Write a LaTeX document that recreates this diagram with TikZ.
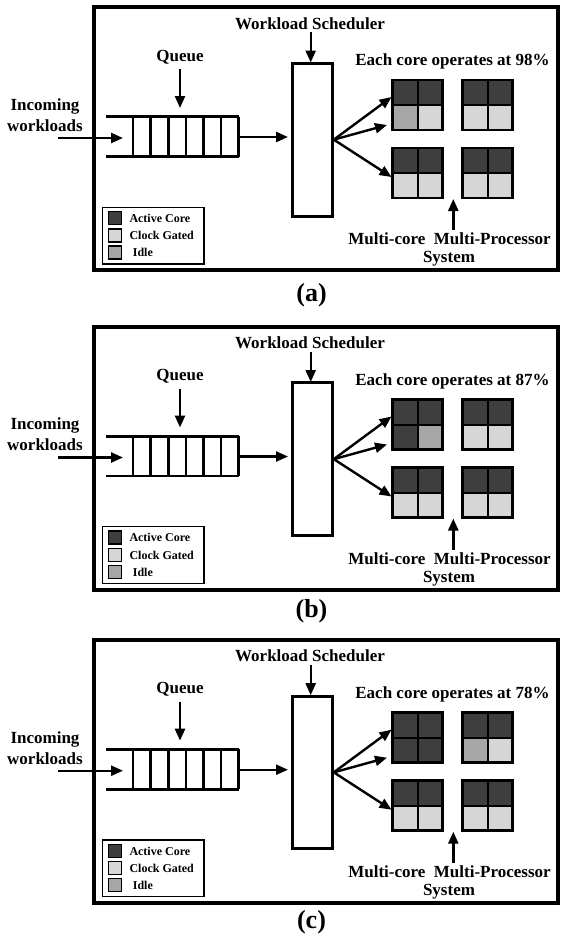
\documentclass[tikz,border=0pt]{standalone}
\usepackage{fontspec}
\setmainfont{Liberation Serif}
\usetikzlibrary{arrows.meta}
\definecolor{activec}{HTML}{3E3E3E}
\definecolor{gatedc}{HTML}{D6D6D6}
\definecolor{idlec}{HTML}{A6A6A6}
\tikzset{
  lbl/.style={font=\fontsize{17}{21}\selectfont\bfseries, inner sep=0pt, align=center},
  leg/.style={font=\fontsize{12}{14}\selectfont\bfseries, inner sep=0pt, anchor=west},
  captext/.style={font=\fontsize{26}{30}\selectfont\bfseries, inner sep=0pt},
  arr/.style={line width=2.4pt, -{Triangle[length=12pt,width=10pt]}},
  frame/.style={draw, line width=4pt},
  qline/.style={line width=2.6pt},
  cell/.style={draw, line width=2pt, minimum size=25pt, inner sep=0pt, outer sep=0pt},
  gridbox/.style={draw, line width=2.8pt},
  swatch/.style={draw, line width=1.2pt, minimum size=13pt, inner sep=0pt},
  schbox/.style={draw, line width=3pt, minimum width=39.6pt, minimum height=152.7pt, inner sep=0pt},
}
% #1 prefix, #2 y offset, #3 percent, #4 #5 TL bottom cells, #6 #7 TR bottom cells, #8 caption, #9 caption y
\newcommand\drawpanel[9]{%
\begin{scope}[shift={(0,#2)}]
  \draw[frame] (94,7.3) rectangle (558,270);
  % queue
  \draw[qline] (106,116.7) -- (238.6,116.7);
  \draw[qline] (106,156.5) -- (238.6,156.5);
  \foreach \qx in {133,150.6,168.2,185.8,203.4,221,238.6}
    \draw[qline] (\qx,116.7) -- (\qx,156.5);
  \coordinate (#1qin) at (123,138);
  \coordinate (#1qout) at (238.6,137);
  \coordinate (#1src) at (58,138);
  \node[lbl] (#1inc) at (45,115) {Incoming\\workloads};
  \draw[arr] (#1src) -- (#1qin);
  \node[lbl] (#1queue) at (180,57) {Queue};
  \coordinate (#1qa) at (180,69);
  \coordinate (#1qb) at (180,108);
  \draw[arr] (#1qa) -- (#1qb);
  % scheduler
  \node[schbox] (#1sch) at (312.5,139.65) {};
  \coordinate (#1sin) at (288,137);
  \draw[arr] (#1qout) -- (#1sin);
  \node[lbl] (#1wsl) at (310,23.3) {Workload Scheduler};
  \coordinate (#1wa) at (310.7,32);
  \coordinate (#1wb) at (310.7,62.5);
  \draw[arr] (#1wa) -- (#1wb);
  % cores
  \node[lbl] (#1each) at (452.5,61.7) {Each core operates at #3};
  \node[cell, fill=activec] (#1a1) at (405.2,92.5) {};
  \node[cell, fill=activec] (#1a2) at (430.2,92.5) {};
  \node[cell, fill=#4] (#1a3) at (405.2,117.5) {};
  \node[cell, fill=#5] (#1a4) at (430.2,117.5) {};
  \draw[gridbox] (392.7,80) rectangle (442.7,130);
  \node[cell, fill=activec] (#1b1) at (475,92.5) {};
  \node[cell, fill=activec] (#1b2) at (500,92.5) {};
  \node[cell, fill=#6] (#1b3) at (475,117.5) {};
  \node[cell, fill=#7] (#1b4) at (500,117.5) {};
  \draw[gridbox] (462.5,80) rectangle (512.5,130);
  \node[cell, fill=activec] (#1c1) at (405.2,160.5) {};
  \node[cell, fill=activec] (#1c2) at (430.2,160.5) {};
  \node[cell, fill=gatedc] (#1c3) at (405.2,185.5) {};
  \node[cell, fill=gatedc] (#1c4) at (430.2,185.5) {};
  \draw[gridbox] (392.7,148) rectangle (442.7,198);
  \node[cell, fill=activec] (#1d1) at (475,160.5) {};
  \node[cell, fill=activec] (#1d2) at (500,160.5) {};
  \node[cell, fill=gatedc] (#1d3) at (475,185.5) {};
  \node[cell, fill=gatedc] (#1d4) at (500,185.5) {};
  \draw[gridbox] (462.5,148) rectangle (512.5,198);
  % fan arrows
  \coordinate (#1f1) at (391.5,97);
  \coordinate (#1f2) at (387,125);
  \coordinate (#1f3) at (391.5,177);
  \draw[arr] (#1sch.east) -- (#1f1);
  \draw[arr] (#1sch.east) -- (#1f2);
  \draw[arr] (#1sch.east) -- (#1f3);
  % system label
  \node[lbl] (#1mc) at (449.5,239) {Multi-core\ \ Multi-Processor};
  \node[lbl] (#1sys) at (449,259) {System};
  \coordinate (#1ua) at (453.3,230);
  \coordinate (#1ub) at (453.3,199);
  \draw[arr] (#1ua) -- (#1ub);
  % legend
  \draw[line width=1.3pt] (102.7,207.3) rectangle (204,264);
  \node[swatch, fill=activec] (#1s1) at (115.3,218) {};
  \node[swatch, fill=gatedc] (#1s2) at (115.3,235.4) {};
  \node[swatch, fill=idlec] (#1s3) at (115.3,252.5) {};
  \node[leg] (#1l1) at (129.3,218.3) {Active Core};
  \node[leg] (#1l2) at (129.3,235.7) {Clock Gated};
  \node[leg] (#1l3) at (132.7,252.7) {Idle};
  % caption
  \node[captext] (#1cap) at (311.5,#9) {#8};
\end{scope}}
\begin{document}
\begin{tikzpicture}[x=1pt,y=-1pt]
  \useasboundingbox[fill=white] (0,0) rectangle (560,940);
  \drawpanel{pa}{0}{98\%}{idlec}{gatedc}{gatedc}{gatedc}{(a)}{295}
  \drawpanel{pb}{319.5}{87\%}{activec}{idlec}{gatedc}{gatedc}{(b)}{291.5}
  \drawpanel{pc}{632.7}{78\%}{activec}{activec}{idlec}{gatedc}{(c)}{289.3}
\end{tikzpicture}
\end{document}
